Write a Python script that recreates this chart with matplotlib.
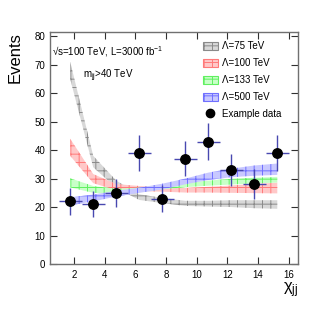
import numpy as np
import matplotlib
matplotlib.use("Agg")
import matplotlib.pyplot as plt
from matplotlib.patches import Patch
from matplotlib.lines import Line2D

plt.rcParams['font.family'] = ['Liberation Sans', 'DejaVu Sans']
plt.rcParams['mathtext.fontset'] = 'custom'
plt.rcParams['mathtext.rm'] = 'Liberation Sans'
plt.rcParams['mathtext.it'] = 'Liberation Sans:italic'
plt.rcParams['mathtext.bf'] = 'Liberation Sans:bold'
plt.rcParams['hatch.linewidth'] = 0.7

# bin centres (chi_jj)
chi = [1.75, 3.25, 4.75, 6.25, 7.75, 9.25, 10.75, 12.25, 13.75, 15.25]
bin_half = 0.75

# example data
data = [22, 21, 25, 39, 23, 37, 43, 33, 28, 39]

# theory bands: centre and half-width
lam75_c = [68, 36, 28, 23.5, 22.3, 21.3, 21.2, 21.2, 21.0, 20.9]
lam75_h = [3.0, 2.0, 1.3, 1.0, 0.9, 0.9, 1.0, 1.2, 1.4, 1.5]
lam100_c = [41, 30, 27, 26.5, 26.2, 25.9, 26.1, 26.3, 26.5, 26.7]
lam100_h = [3.0, 1.6, 1.1, 0.9, 0.8, 0.8, 1.0, 1.3, 1.6, 1.9]
lam133_c = [28.5, 26.2, 25.5, 26.0, 27.0, 27.8, 28.4, 28.9, 29.3, 29.6]
lam133_h = [1.6, 1.2, 0.9, 0.8, 0.8, 0.8, 0.9, 1.0, 1.0, 1.0]
lam500_c = [22.0, 23.2, 24.7, 25.9, 27.2, 29.0, 30.8, 32.0, 32.8, 33.3]
lam500_h = [1.4, 1.2, 1.0, 0.9, 1.0, 1.0, 1.3, 1.5, 1.8, 2.0]

labels = ['\u039b=75 TeV', '\u039b=100 TeV', '\u039b=133 TeV', '\u039b=500 TeV']
face = ['#d8d8d8', '#ffc8c8', '#c8ffc8', '#c8c8ff']
edge = ['#8a8a8a', '#ff7a7a', '#60f060', '#7070ff']

xticks = [2, 4, 6, 8, 10, 12, 14, 16]
yticks = [0, 10, 20, 30, 40, 50, 60, 70, 80]

fig = plt.figure(figsize=(3.32, 3.12), dpi=100)
ax = fig.add_axes([49.5/332, 48/312, 248.5/332, 232/312])

x = np.array(chi)
bands = [(lam75_c, lam75_h), (lam100_c, lam100_h), (lam133_c, lam133_h), (lam500_c, lam500_h)]
for (c, h), fc, ec in zip(bands, face, edge):
    c = np.array(c); h = np.array(h)
    ax.fill_between(x, c - h, c + h, facecolor=fc, edgecolor=ec, hatch='++',
                    linewidth=0, zorder=2)

ax.errorbar(chi, data, xerr=bin_half, yerr=np.sqrt(data), fmt='none',
            ecolor='#4848b0', elinewidth=1.0, capsize=0, zorder=3)
ax.plot(chi, data, 'o', color='black', markersize=6.8, zorder=4)

ax.set_xlim(0.4, 16.6)
ax.set_ylim(0, 81.5)
ax.set_xticks(xticks)
ax.set_yticks(yticks)
ax.tick_params(direction='in', length=5, width=0.8, labelsize=7, color='#303030',
               top=True, right=True, pad=3)
ax.tick_params(axis='x', pad=4)
for s in ax.spines.values():
    s.set_color('#707070')
    s.set_linewidth(1.0)

ax.text(-0.139, 1.0, 'Events', rotation=90, ha='center', va='top',
        transform=ax.transAxes, fontsize=12)
ax.text(1.0, -0.07, r'$\mathregular{\chi_{jj}}$', ha='right', va='top',
        transform=ax.transAxes, fontsize=12)

ax.text(0.01, 0.915, '\u221as=100 TeV, L=3000 fb$^{\\mathregular{-1}}$', transform=ax.transAxes,
        fontsize=7, ha='left', va='center')
ax.text(0.134, 0.81, r'm$_{\mathregular{jj}}$>40 TeV', transform=ax.transAxes,
        fontsize=7, ha='left', va='center')

handles = [Patch(facecolor=fc, edgecolor=ec, hatch='++', linewidth=0.8)
           for fc, ec in zip(face, edge)]
handles.append(Line2D([], [], marker='o', color='black', linestyle='none', markersize=6))
leg = ax.legend(handles, labels + ['Example data'], loc='upper left',
                bbox_to_anchor=(0.616, 0.96), frameon=False, fontsize=7,
                borderpad=0, borderaxespad=0, handlelength=1.6, handleheight=1.0,
                handletextpad=0.35, labelspacing=0.72)

fig.savefig('out.png', dpi=100)
